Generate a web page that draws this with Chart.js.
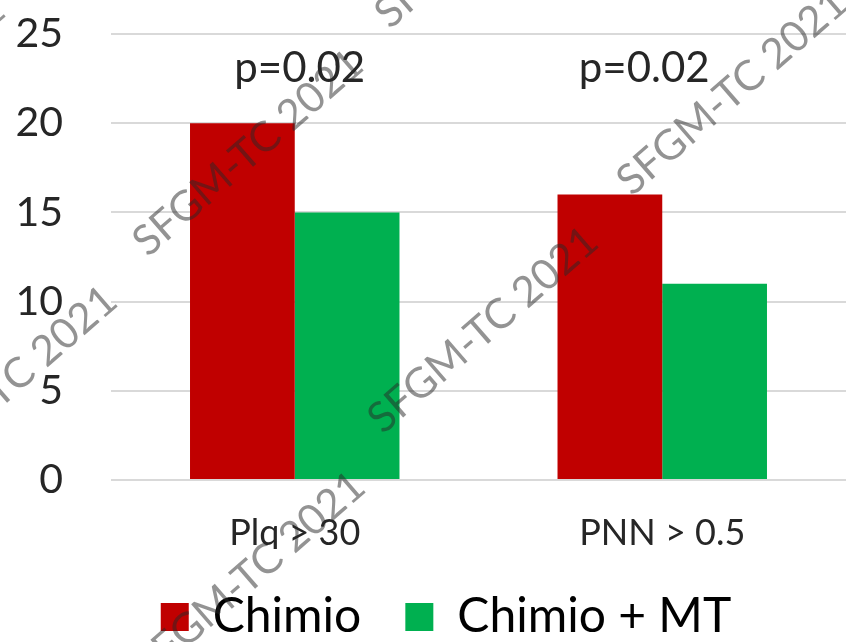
<!DOCTYPE html>
<html><head><meta charset="utf-8">
<script src="https://cdn.jsdelivr.net/npm/chart.js@4/dist/chart.umd.min.js"></script>
<style>html,body{margin:0;padding:0;background:#fff}#wrap{width:846px;height:642px}</style>
</head><body><div id="wrap"><canvas id="c" width="846" height="642"></canvas></div>
<script>
const categories = ["Plq > 30", "PNN > 0.5"];
const seriesNames = ["Chimio", "Chimio + MT"];
const chimio = [20, 16];
const chimioMT = [15, 11];
const pLabels = ["p=0.02", "p=0.02"];
const yTickValues = [0, 5, 10, 15, 20, 25];
const watermarkText = "SFGM-TC 2021";

const FONT = 'Lato, "Open Sans", sans-serif';
const P_LEVEL = 22.3;
const P_SHIFT = [5, -18];

const overlay = {
  id: 'overlay',
  beforeLayout(chart) {
    const lg = chart.legend;
    if (lg && !lg._fixed) {
      const orig = lg.fit.bind(lg);
      lg.fit = function () { orig(); this.height = 93; };
      lg._fixed = true;
    }
  },
  afterLayout(chart) {
    if (chart.legend) { chart.legend.left += 46; }
  },
  afterDatasetsDraw(chart) {
    const { ctx, scales: { x, y } } = chart;
    ctx.save();
    ctx.font = '42px ' + FONT;
    ctx.fillStyle = '#262626';
    ctx.textAlign = 'center';
    ctx.textBaseline = 'alphabetic';
    pLabels.forEach((t, i) => ctx.fillText(t, x.getPixelForValue(i) + P_SHIFT[i], y.getPixelForValue(P_LEVEL)));
    ctx.restore();
  },
  afterDraw(chart) {
    const { ctx } = chart;
    const anchors = [[148, 258], [383, 435], [632, 197], [-98, 494], [150, 680], [390, 30], [-210, 204]];
    ctx.save();
    ctx.font = '42px ' + FONT;
    ctx.fillStyle = 'rgba(40,40,40,0.5)';
    ctx.textAlign = 'left';
    ctx.textBaseline = 'alphabetic';
    anchors.forEach(([ax, ay]) => {
      ctx.save();
      ctx.translate(ax, ay);
      ctx.rotate(-41 * Math.PI / 180);
      ctx.fillText(watermarkText, 0, 0);
      ctx.restore();
    });
    ctx.restore();
  }
};

new Chart(document.getElementById('c'), {
  type: 'bar',
  data: {
    labels: categories,
    datasets: [
      { label: seriesNames[0], data: chimio, backgroundColor: '#C00000', borderWidth: 0 },
      { label: seriesNames[1], data: chimioMT, backgroundColor: '#00B050', borderWidth: 0 }
    ]
  },
  options: {
    responsive: false,
    animation: false,
    devicePixelRatio: 1,
    layout: { padding: { top: 34, right: 0, left: 0, bottom: 0 } },
    datasets: { bar: { categoryPercentage: 0.57, barPercentage: 1.0 } },
    plugins: {
      legend: {
        position: 'bottom',
        labels: { boxWidth: 28, boxHeight: 28, padding: 44, color: '#000', font: { size: 48, family: FONT } }
      },
      tooltip: { enabled: false }
    },
    scales: {
      x: {
        afterFit: (s) => { s.height = 69; },
        grid: { display: false, drawTicks: false },
        border: { display: false },
        ticks: { color: '#262626', padding: 32, font: { size: 36, family: FONT } }
      },
      y: {
        min: 0, max: 25,
        afterBuildTicks: (s) => { s.ticks = yTickValues.map(v => ({ value: v })); },
        afterFit: (s) => { s.width = 111; },
        grid: { color: '#d9d9d9', lineWidth: 2, drawTicks: true, tickLength: 48, tickColor: 'rgba(0,0,0,0)' },
        border: { display: false },
        ticks: { color: '#262626', padding: 0, font: { size: 41, family: FONT } }
      }
    }
  },
  plugins: [overlay]
});
</script></body></html>
